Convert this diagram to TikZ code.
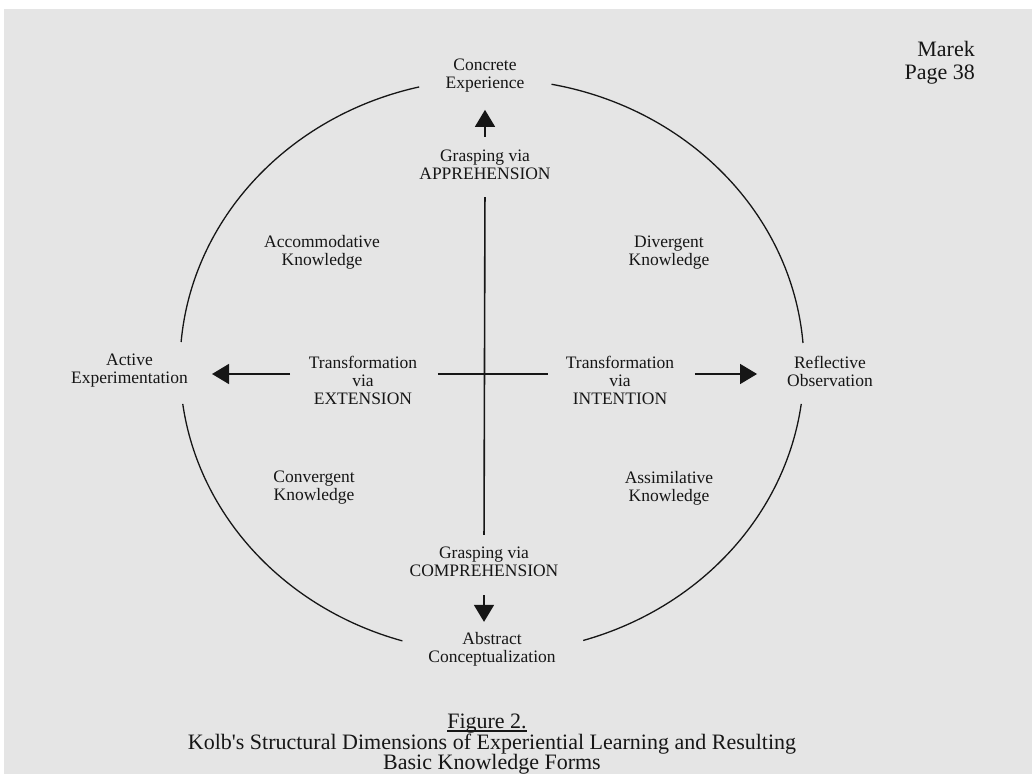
\documentclass[tikz,border=0pt]{standalone}
\usepackage{fontspec}
\setmainfont{Liberation Serif}
\usetikzlibrary{arrows.meta}

\definecolor{paper}{RGB}{229,229,229}
\definecolor{ink}{RGB}{22,22,22}

\tikzset{
  lbl/.style={align=center, inner sep=0pt, text=ink,
              font=\fontsize{17.5}{18}\selectfont},
  big/.style={inner sep=0pt, text=ink, font=\fontsize{22}{23}\selectfont},
  axisline/.style={draw=ink, line width=1.6pt},
  arr/.style={axisline, -{Triangle[length=17pt,width=20pt]}},
  rim/.style={draw=ink, line width=1.3pt},
}

\begin{document}
\begin{tikzpicture}[x=1pt, y=1pt]
  % page and grey sheet
  \useasboundingbox (0,0) rectangle (1032,774);
  \fill[white] (0,0) rectangle (1032,774);
  \fill[paper] (4,0) rectangle (1032,765);

  % four arcs of the learning cycle
  \coordinate (ctr) at (492,408);
  \draw[rim] (ctr) ++(103.5:312pt and 287pt)
        arc[start angle=103.5, end angle=175.2, x radius=312pt, y radius=287pt];
  \draw[rim] (ctr) ++(79:312pt and 287pt)
        arc[start angle=79, end angle=4.6, x radius=312pt, y radius=287pt];
  \draw[rim] (ctr) ++(-7.6:312pt and 287pt)
        arc[start angle=-7.6, end angle=-73, x radius=312pt, y radius=287pt];
  \draw[rim] (ctr) ++(187.6:312pt and 287pt)
        arc[start angle=187.6, end angle=253.3, x radius=312pt, y radius=287pt];

  % the four poles
  \node[lbl] (CE) at (485,698) {Concrete\\Experience};
  \node[lbl] (AE) at (129.5,403) {Active\\Experimentation};
  \node[lbl] (RO) at (830,403) {Reflective\\Observation};
  \node[lbl] (AC) at (492,125) {Abstract\\Conceptualization};

  % the two dimensions
  \node[lbl] (APP)  at (485,609)   {Grasping via\\APPREHENSION};
  \node[lbl] (COMP) at (484,212.5) {Grasping via\\COMPREHENSION};
  \node[lbl] (EXT)  at (363,394)   {Transformation\\via\\EXTENSION};
  \node[lbl] (INT)  at (620,394)   {Transformation\\via\\INTENTION};

  % knowledge forms
  \node[lbl] (ACC)   at (322,521.5) {Accommodative\\Knowledge};
  \node[lbl] (DIV)   at (669,521.5) {Divergent\\Knowledge};
  \node[lbl] (CONV)  at (314,286)   {Convergent\\Knowledge};
  \node[lbl] (ASSIM) at (669,286)   {Assimilative\\Knowledge};

  % grasping axis
  \draw[arr, shorten <=13pt, shorten >=17pt] (APP.north) -- (CE.south);
  \draw[axisline, shorten <=17pt, shorten >=11.5pt] (APP.south) -- (COMP.north);
  \draw[arr, shorten <=18.5pt, shorten >=10pt] (COMP.south) -- (COMP.south |- AC.north);

  % transformation axis
  \draw[axisline, shorten <=20.5pt, shorten >=17.6pt]
        ([yshift=6pt]EXT.east) -- ([yshift=6pt]INT.west);
  \draw[arr, shorten <=18.6pt, shorten >=24pt]
        ([yshift=6pt]EXT.west) -- ([yshift=6pt]EXT.west -| AE.east);
  \draw[arr, shorten <=20.6pt, shorten >=30pt]
        ([yshift=6pt]INT.east) -- ([yshift=6pt]INT.east -| RO.west);

  % page mark
  \node[big, align=right, anchor=east] (mark) at (975,711.6) {Marek\\Page 38};

  % caption
  \node[big, anchor=base] (fig) at (487,46) {Figure 2.};
  \draw[ink, line width=1.6pt] ([yshift=-3pt]fig.base west) -- ([yshift=-3pt]fig.base east);
  \node[big, anchor=base] (cap1) at (492,25)
        {Kolb\textquotesingle s Structural Dimensions of Experiential Learning and Resulting};
  \node[big, anchor=base] (cap2) at (492,5) {Basic Knowledge Forms};
\end{tikzpicture}
\end{document}
